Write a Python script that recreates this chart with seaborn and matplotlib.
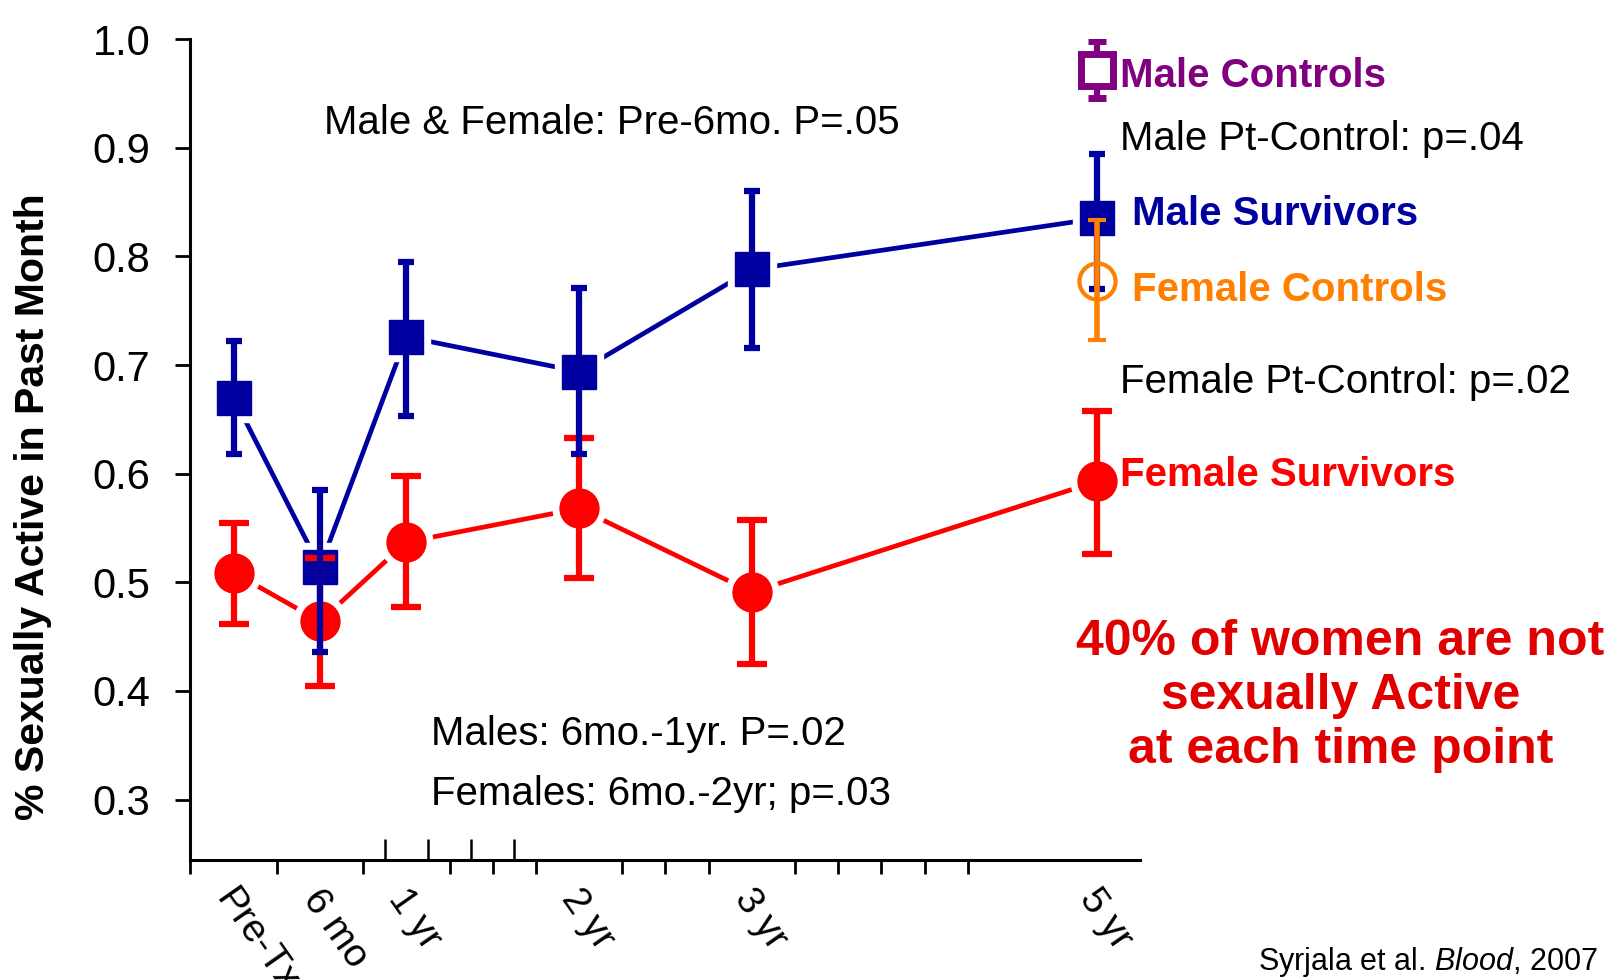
import numpy as np
import pandas as pd
import matplotlib
matplotlib.use('Agg')
from matplotlib import pyplot as plt
from matplotlib import transforms
import seaborn as sns

sns.set_theme(style='white')
plt.rcParams['font.family'] = ['Liberation Sans', 'DejaVu Sans']
plt.rcParams['mathtext.fontset'] = 'custom'
plt.rcParams['mathtext.rm'] = 'Liberation Sans'
plt.rcParams['mathtext.it'] = 'Liberation Sans:italic'
for k in ['text.color', 'axes.labelcolor', 'xtick.color', 'ytick.color']:
    plt.rcParams[k] = 'black'

# x positions in quarter-year steps (Pre-Tx = 1, 5 yr = 21)
time_pos = [1, 3, 5, 9, 13, 21]
time_labels = ['Pre-Tx', '6 mo', '1 yr', '2 yr', '3 yr', '5 yr']

male_surv = [0.670, 0.514, 0.726, 0.694, 0.788, 0.835]
male_hi = [0.722, 0.585, 0.795, 0.771, 0.860, 0.894]
male_lo = [0.618, 0.436, 0.653, 0.618, 0.716, 0.770]

female_surv = [0.509, 0.464, 0.537, 0.568, 0.491, 0.593]
female_hi = [0.555, 0.522, 0.598, 0.633, 0.557, 0.658]
female_lo = [0.462, 0.405, 0.477, 0.504, 0.425, 0.526]

ctrl_pos = [21]
male_ctrl = [0.972]
male_ctrl_hi = [0.998]
male_ctrl_lo = [0.946]
female_ctrl = [0.777]
female_ctrl_hi = [0.834]
female_ctrl_lo = [0.723]

yticks = [0.3, 0.4, 0.5, 0.6, 0.7, 0.8, 0.9, 1.0]

BLUE = '#0000A0'
RED = '#FF0000'
ORANGE = '#FF8000'
PURPLE = '#800080'
TXT_RED = '#E00000'

df = pd.DataFrame({
    't': time_pos * 2,
    'rate': male_surv + female_surv,
    'group': ['Male'] * 6 + ['Female'] * 6,
})

fig = plt.figure(figsize=(16.14, 9.8), dpi=100)
ax = fig.add_axes([0.118, 0.122, 0.5886, 0.838])

# connecting lines
sns.lineplot(data=df, x='t', y='rate', hue='group',
             palette={'Male': BLUE, 'Female': RED},
             linewidth=3.4, legend=False, ax=ax, zorder=1)

# white halos give the little gap between line and marker
ax.plot(time_pos, male_surv, 's', ms=34, color='white', zorder=2)
ax.plot(time_pos, female_surv, 'o', ms=38, color='white', zorder=2)

def err(vals, lo, hi):
    v = np.array(vals)
    return [v - np.array(lo), np.array(hi) - v]

ax.plot(time_pos, male_surv, 's', ms=24, color=BLUE, zorder=3)
ax.plot(time_pos, female_surv, 'o', ms=28, color=RED, zorder=3)
ax.errorbar(time_pos, female_surv, yerr=err(female_surv, female_lo, female_hi),
            fmt='none', ecolor=RED, elinewidth=4.5, capsize=10.5, capthick=4.5,
            zorder=4)
ax.errorbar(time_pos, male_surv, yerr=err(male_surv, male_lo, male_hi),
            fmt='none', ecolor=BLUE, elinewidth=4.5, capsize=6, capthick=4.5,
            zorder=5)

# controls at 5 yr
ax.errorbar(ctrl_pos, male_ctrl, yerr=err(male_ctrl, male_ctrl_lo, male_ctrl_hi),
            fmt='s', ms=23, mfc='white', mec=PURPLE, mew=5, ecolor=PURPLE,
            elinewidth=4.5, capsize=6.5, capthick=4.5, zorder=6)
ax.errorbar(ctrl_pos, female_ctrl, yerr=err(female_ctrl, female_ctrl_lo, female_ctrl_hi),
            fmt='o', ms=26, mfc='none', mec=ORANGE, mew=3, ecolor=ORANGE,
            elinewidth=4, capsize=6.5, capthick=4, zorder=6)

ax.set_xlim(0, 22)
ax.set_ylim(0.244, 1.0)
ax.set_xlabel('')
ax.set_ylabel('% Sexually Active in Past Month', fontsize=29.5, fontweight='bold')
ax.yaxis.set_label_coords(-0.146, 0.431)

sns.despine(ax=ax)
for s in ['left', 'bottom']:
    ax.spines[s].set_linewidth(2.2)
    ax.spines[s].set_color('black')

ax.set_yticks(yticks, [f'{v:.1f}' for v in yticks])
ax.tick_params(axis='y', direction='out', length=11, width=2, pad=18,
               labelsize=30, left=True, color='black')

ax.set_xticks(time_pos, time_labels)
ax.set_xticks(range(19), minor=True)
ax.tick_params(axis='x', which='major', length=0, pad=16, labelsize=28)
ax.tick_params(axis='x', which='minor', direction='out', length=10, width=2,
               bottom=True, color='black')
offset = transforms.ScaledTranslation(-0.25, 0, fig.dpi_scale_trans)
for lbl in ax.get_xticklabels():
    lbl.set_rotation(-55)
    lbl.set_ha('left')
    lbl.set_va('top')
    lbl.set_transform(lbl.get_transform() + offset)

sec = ax.secondary_xaxis('bottom')
sec.set_xticks([4.5, 5.5, 6.5, 7.5])
sec.tick_params(direction='in', length=15, width=1.8, labelbottom=False,
                color='black')
sec.spines['bottom'].set_visible(False)

# annotations
ax.text(3.10, 0.923, 'Male & Female: Pre-6mo. P=.05', fontsize=29, va='center')
ax.text(5.58, 0.360, 'Males: 6mo.-1yr. P=.02', fontsize=29, va='center')
ax.text(5.58, 0.305, 'Females: 6mo.-2yr; p=.03', fontsize=29, va='center')

ax.text(21.53, 0.966, 'Male Controls', fontsize=29, fontweight='bold',
        color=PURPLE, va='center', clip_on=False)
ax.text(21.53, 0.908, 'Male Pt-Control: p=.04', fontsize=29, va='center',
        clip_on=False)
ax.text(21.81, 0.839, 'Male Survivors', fontsize=29, fontweight='bold',
        color=BLUE, va='center', clip_on=False)
ax.text(21.81, 0.769, 'Female Controls', fontsize=29, fontweight='bold',
        color=ORANGE, va='center', clip_on=False)
ax.text(21.53, 0.684, 'Female Pt-Control: p=.02', fontsize=29, va='center',
        clip_on=False)
ax.text(21.53, 0.599, 'Female Survivors', fontsize=29, fontweight='bold',
        color=RED, va='center', clip_on=False)
ax.text(26.63, 0.395, '40% of women are not\nsexually Active\nat each time point',
        fontsize=36, fontweight='bold', color=TXT_RED, ha='center',
        va='center', multialignment='center', linespacing=1.22, clip_on=False)

fig.text(0.990, 0.018, r'Syrjala et al. $\it{Blood}$, 2007', fontsize=22,
         ha='right', va='center')

plt.savefig('out.png', dpi=100)
